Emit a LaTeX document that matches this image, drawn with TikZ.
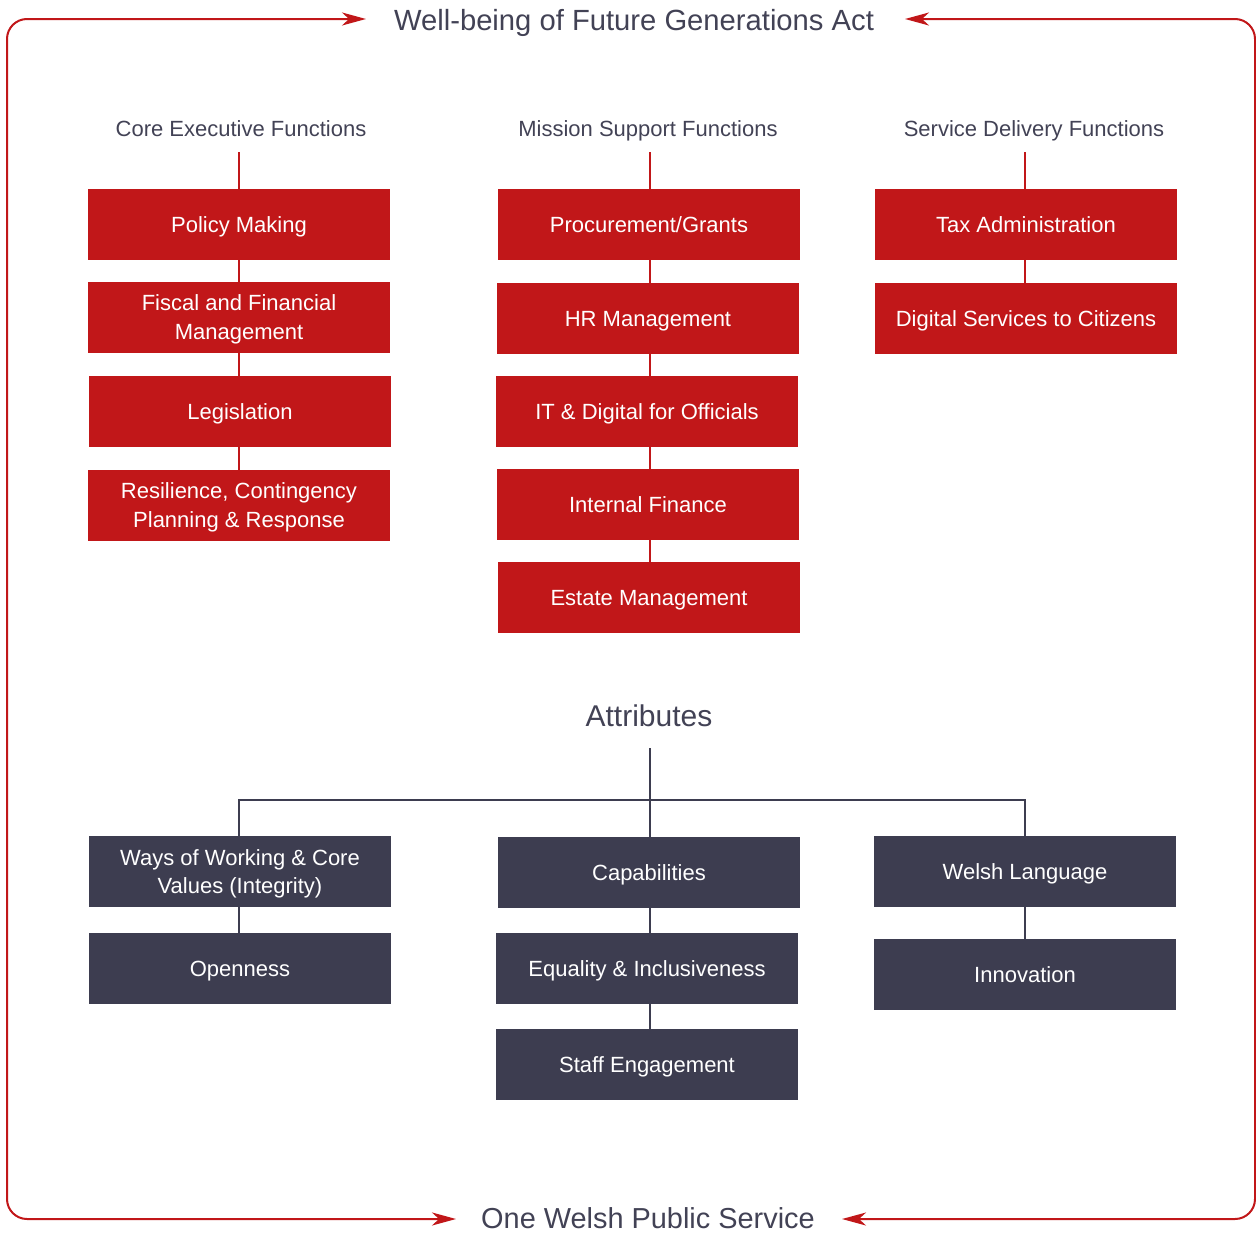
\documentclass[tikz,border=0pt]{standalone}
\usepackage{fontspec}
\setmainfont{Liberation Sans}
\usetikzlibrary{arrows.meta}
\definecolor{wred}{HTML}{C11719}
\definecolor{wdark}{HTML}{3D3D50}
\definecolor{wtext}{HTML}{424255}
\begin{document}
\begin{tikzpicture}[x=1pt,y=-1pt,
  redbox/.style={rectangle,fill=wred,text=white,minimum width=302pt,minimum height=71pt,inner sep=0pt,align=center,font=\fontsize{22}{29}\selectfont},
  darkbox/.style={rectangle,fill=wdark,text=white,minimum width=302pt,minimum height=71pt,inner sep=0pt,align=center,font=\fontsize{22}{28}\selectfont},
  oneline/.style={text height=15.75pt,text depth=0pt},
  twoline/.style={text depth=0pt},
  header/.style={text=wtext,inner sep=0pt,anchor=base,font=\fontsize{22}{26}\selectfont},
  bigtitle/.style={text=wtext,inner sep=0pt,font=\fontsize{29}{34}\selectfont},
  redline/.style={draw=wred,line width=2pt},
  darkline/.style={draw=wdark,line width=2pt},
  frame/.style={draw=wred,line width=2pt,rounded corners=20pt,{Stealth[length=24pt,width=13pt,inset=7pt]}-{Stealth[length=24pt,width=13pt,inset=7pt]}}
]
\useasboundingbox (0,0) rectangle (1256,1234);

% titles
\node[bigtitle,anchor=base,font=\fontsize{29.2}{34}\selectfont] (topt) at (634,30.5) {Well-being of Future Generations Act};
\node[bigtitle,anchor=base,font=\fontsize{28.9}{34}\selectfont] (bott) at (648,1228.5) {One Welsh Public Service};

\coordinate (tl) at (366,19);
\coordinate (tr) at (905,19);
\coordinate (bl) at (456,1219);
\coordinate (br) at (842,1219);
\coordinate (c1) at (7,19);
\coordinate (c2) at (7,1219);
\coordinate (c3) at (1255,19);
\coordinate (c4) at (1255,1219);
\draw[frame] (tl) -- (c1) -- (c2) -- (bl);
\draw[frame] (tr) -- (c3) -- (c4) -- (br);

% column headers
\node[header] (hL) at (241,136.5) {Core Executive Functions};
\node[header] (hM) at (648,136.5) {Mission Support Functions};
\node[header] (hR) at (1034,136.5) {Service Delivery Functions};
\coordinate (eL) at (239,152);
\coordinate (eM) at (650,152);
\coordinate (eR) at (1025,152);

% left column
\node[redbox,oneline] (policy) at (239,224.5) {Policy Making};
\node[redbox,twoline] (fiscal) at (239,317.5) {Fiscal and Financial\\Management};
\node[redbox,oneline] (legis) at (240,411.5) {Legislation};
\node[redbox,twoline] (resil) at (239,505.5) {Resilience, Contingency\\Planning \& Response};

% middle column
\node[redbox,oneline] (procure) at (649,224.5) {Procurement/Grants};
\node[redbox,oneline] (hr) at (648,318.5) {HR Management};
\node[redbox,oneline] (it) at (647,411.5) {IT \& Digital for Officials};
\node[redbox,oneline] (intfin) at (648,504.5) {Internal Finance};
\node[redbox,oneline] (estate) at (649,597.5) {Estate Management};

% right column
\node[redbox,oneline] (tax) at (1026,224.5) {Tax Administration};
\node[redbox,oneline] (digital) at (1026,318.5) {Digital Services to Citizens};

% red connectors
\draw[redline] (eL) -- (eL |- policy.north);
\draw[redline] (eL |- policy.south) -- (eL |- fiscal.north);
\draw[redline] (eL |- fiscal.south) -- (eL |- legis.north);
\draw[redline] (eL |- legis.south) -- (eL |- resil.north);
\draw[redline] (eM) -- (eM |- procure.north);
\draw[redline] (eM |- procure.south) -- (eM |- hr.north);
\draw[redline] (eM |- hr.south) -- (eM |- it.north);
\draw[redline] (eM |- it.south) -- (eM |- intfin.north);
\draw[redline] (eM |- intfin.south) -- (eM |- estate.north);
\draw[redline] (eR) -- (eR |- tax.north);
\draw[redline] (eR |- tax.south) -- (eR |- digital.north);

% attributes
\node[bigtitle,font=\fontsize{30}{34}\selectfont] (attr) at (649,716) {Attributes};
\coordinate (aEnd) at (650,748);
\coordinate (hbar) at (650,800);

\node[darkbox,twoline] (ways) at (240,871.5) {Ways of Working \& Core\\Values (Integrity)};
\node[darkbox,oneline] (open) at (240,968.5) {Openness};
\node[darkbox,oneline] (capab) at (649,872.5) {Capabilities};
\node[darkbox,oneline] (equal) at (647,968.5) {Equality \& Inclusiveness};
\node[darkbox,oneline] (staff) at (647,1064.5) {Staff Engagement};
\node[darkbox,oneline] (welsh) at (1025,871.5) {Welsh Language};
\node[darkbox,oneline] (innov) at (1025,974.5) {Innovation};

\coordinate (xL) at (239,0);
\draw[darkline] (aEnd) -- (aEnd |- capab.north);
\draw[darkline] (xL |- ways.north) |- (hbar) -| (welsh.north);
\draw[darkline] (xL |- ways.south) -- (xL |- open.north);
\draw[darkline] (aEnd |- capab.south) -- (aEnd |- equal.north);
\draw[darkline] (aEnd |- equal.south) -- (aEnd |- staff.north);
\draw[darkline] (welsh.south) -- (innov.north);
\end{tikzpicture}
\end{document}
